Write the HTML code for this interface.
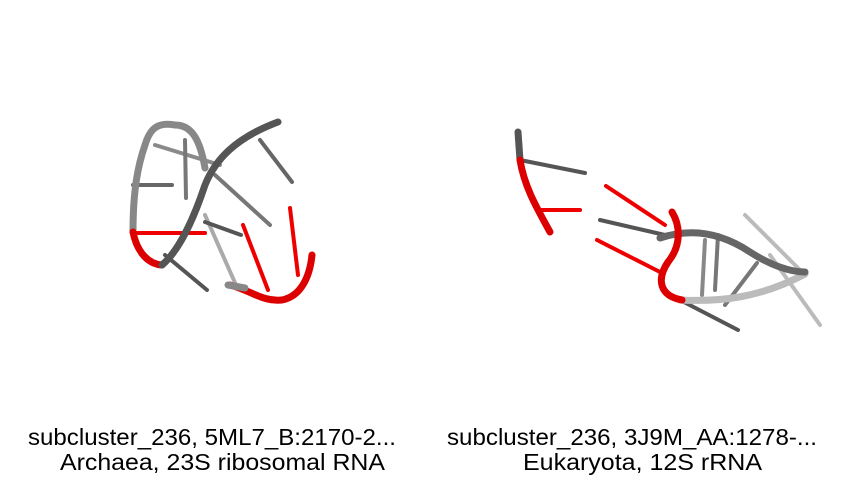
<!DOCTYPE html>
<html><head><meta charset="utf-8"><style>
html,body{margin:0;padding:0;background:#fff;width:860px;height:480px;overflow:hidden}
svg{display:block}
text{font-family:"Liberation Sans",Arial,sans-serif;font-size:23px;fill:#000}
</style></head><body>
<svg width="860" height="480" viewBox="0 0 860 480">
<g stroke-linecap="round" fill="none">
  <g stroke-width="4">
    <line x1="205" y1="215" x2="236" y2="285" stroke="#aaa"/>
    <line x1="155" y1="145" x2="220" y2="165" stroke="#8a8a8a"/>
    <line x1="185" y1="140" x2="186" y2="198" stroke="#777"/>
    <line x1="133" y1="185" x2="172" y2="185" stroke="#666"/>
    <line x1="215" y1="175" x2="270" y2="225" stroke="#777"/>
    <line x1="260" y1="140" x2="292" y2="182" stroke="#666"/>
    <line x1="205" y1="222" x2="241" y2="235" stroke="#555"/>
    <line x1="165" y1="255" x2="207" y2="290" stroke="#555"/>
    <line x1="133" y1="233" x2="205" y2="233" stroke="#e00"/>
    <line x1="243" y1="225" x2="268" y2="290" stroke="#e00"/>
    <line x1="290" y1="208" x2="298" y2="275" stroke="#e00"/>
  </g>
  <path d="M205 168 C200 140 192 125 175 125 C158 122 150 128 145 145 C138 165 133 190 133 232" stroke="#888" stroke-width="7"/>
  <path d="M133 232 C137 252 148 264 162 265" stroke="#d00" stroke-width="7"/>
  <path d="M162 265 C180 250 195 215 205 185 C215 160 235 138 278 122" stroke="#555" stroke-width="7"/>
  <path d="M230 285 C250 290 262 302 282 300 C302 296 310 275 312 255" stroke="#d00" stroke-width="7"/>
  <path d="M228 285 L245 288" stroke="#888" stroke-width="7"/>
</g>
<g stroke-linecap="round" fill="none">
  <g stroke-width="4">
    <line x1="745" y1="215" x2="800" y2="270" stroke="#bbb"/>
    <line x1="770" y1="255" x2="820" y2="325" stroke="#bbb"/>
    <line x1="520" y1="160" x2="585" y2="173" stroke="#555"/>
    <line x1="540" y1="210" x2="580" y2="210" stroke="#e00"/>
    <line x1="606" y1="186" x2="665" y2="225" stroke="#e00"/>
    <line x1="597" y1="240" x2="660" y2="272" stroke="#e00"/>
    <line x1="600" y1="220" x2="665" y2="235" stroke="#555"/>
    <line x1="705" y1="240" x2="702" y2="295" stroke="#888"/>
    <line x1="718" y1="235" x2="715" y2="290" stroke="#777"/>
    <line x1="757" y1="263" x2="725" y2="305" stroke="#777"/>
    <line x1="680" y1="300" x2="738" y2="330" stroke="#555"/>
  </g>
  <path d="M518 132 L520 160" stroke="#555" stroke-width="7"/>
  <path d="M520 160 C524 185 535 205 550 232" stroke="#d00" stroke-width="7"/>
  <path d="M680 300 C720 302 760 298 805 274" stroke="#bbb" stroke-width="7"/>
  <path d="M660 238 C690 228 720 232 750 252 C770 265 790 272 805 272" stroke="#666" stroke-width="7"/>
  <path d="M672 212 C680 225 682 245 668 262 C656 280 660 296 682 300" stroke="#d00" stroke-width="7"/>
</g>
<g>
  <text x="28" y="445" textLength="368" lengthAdjust="spacingAndGlyphs">subcluster_236, 5ML7_B:2170-2...</text>
  <text x="60" y="470" textLength="325" lengthAdjust="spacingAndGlyphs">Archaea, 23S ribosomal RNA</text>
</g>
<g>
  <text x="447" y="445" textLength="370" lengthAdjust="spacingAndGlyphs">subcluster_236, 3J9M_AA:1278-...</text>
  <text x="523" y="470" textLength="239" lengthAdjust="spacingAndGlyphs">Eukaryota, 12S rRNA</text>
</g>
</svg>
</body></html>
